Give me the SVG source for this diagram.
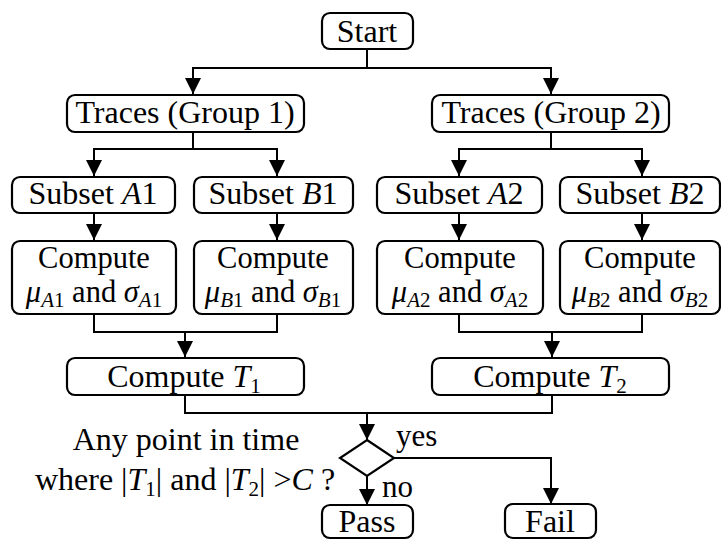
<svg xmlns="http://www.w3.org/2000/svg" width="721" height="540" viewBox="0 0 721 540">
<style>
.box{fill:#fff;stroke:#000;stroke-width:2.2}
.ln{fill:none;stroke:#000;stroke-width:2}
text{font-family:"Liberation Serif","Times New Roman",serif;font-size:32px;fill:#000;text-anchor:middle}
.cmp{font-size:30.5px}
.it{font-style:italic}
.sub{font-size:21px}
.lbl{text-anchor:start;font-size:31px}
</style>
<defs>
<marker id="ah" markerUnits="userSpaceOnUse" markerWidth="16" markerHeight="16" refX="16" refY="8" orient="auto" viewBox="0 0 16 16">
<path d="M0,0 L16,8 L0,16 z" fill="#000"/>
</marker>
</defs>
<rect width="721" height="540" fill="#fff"/>
<g id="connectors">
<path class="ln" d="M367,49 V68 H193 V94" marker-end="url(#ah)"/>
<path class="ln" d="M367,68 H551 V94" marker-end="url(#ah)"/>
<path class="ln" d="M193,132 V149 H94 V176" marker-end="url(#ah)"/>
<path class="ln" d="M193,149 H277 V176" marker-end="url(#ah)"/>
<path class="ln" d="M551,132 V149 H459 V176" marker-end="url(#ah)"/>
<path class="ln" d="M551,149 H642 V176" marker-end="url(#ah)"/>
<path class="ln" d="M94,213 V240" marker-end="url(#ah)"/>
<path class="ln" d="M277,213 V240" marker-end="url(#ah)"/>
<path class="ln" d="M459,213 V240" marker-end="url(#ah)"/>
<path class="ln" d="M642,213 V240" marker-end="url(#ah)"/>
<path class="ln" d="M94,314 V332 H277 V314"/>
<path class="ln" d="M185,332 V357" marker-end="url(#ah)"/>
<path class="ln" d="M459,314 V332 H642 V314"/>
<path class="ln" d="M552,332 V357" marker-end="url(#ah)"/>
<path class="ln" d="M185,395 V413 H552 V395"/>
<path class="ln" d="M367,413 V440" marker-end="url(#ah)"/>
<path class="ln" d="M394,458 H551 V504" marker-end="url(#ah)"/>
<path class="ln" d="M367,476 V505" marker-end="url(#ah)"/>
</g>
<g id="start"><rect class="box" x="322" y="13" width="91" height="36" rx="8"/><text x="367" y="42">Start</text></g>
<g id="traces1"><rect class="box" x="67" y="95" width="237" height="37" rx="8"/><text x="185" y="123">Traces (Group 1)</text></g>
<g id="traces2"><rect class="box" x="432" y="95" width="237" height="37" rx="8"/><text x="551" y="123">Traces (Group 2)</text></g>
<g id="subsetA1"><rect class="box" x="12" y="177" width="163" height="36" rx="8"/><text x="93" y="204">Subset <tspan class="it">A</tspan>1</text></g>
<g id="subsetB1"><rect class="box" x="194" y="177" width="159" height="36" rx="8"/><text x="273" y="204">Subset <tspan class="it">B</tspan>1</text></g>
<g id="subsetA2"><rect class="box" x="377" y="177" width="165" height="36" rx="8"/><text x="459" y="204">Subset <tspan class="it">A</tspan>2</text></g>
<g id="subsetB2"><rect class="box" x="560" y="177" width="160" height="36" rx="8"/><text x="640" y="204">Subset <tspan class="it">B</tspan>2</text></g>
<g id="computeA1"><rect class="box" x="12" y="241" width="164" height="73" rx="8"/><text class="cmp" x="94" y="268">Compute</text><text class="cmp" x="94" y="302"><tspan class="it">μ</tspan><tspan class="sub" dy="5"><tspan class="it">A</tspan>1</tspan><tspan dy="-5"> and </tspan><tspan class="it">σ</tspan><tspan class="sub" dy="5"><tspan class="it">A</tspan>1</tspan></text></g>
<g id="computeB1"><rect class="box" x="194" y="241" width="159" height="73" rx="8"/><text class="cmp" x="273" y="268">Compute</text><text class="cmp" x="273" y="302"><tspan class="it">μ</tspan><tspan class="sub" dy="5"><tspan class="it">B</tspan>1</tspan><tspan dy="-5"> and </tspan><tspan class="it">σ</tspan><tspan class="sub" dy="5"><tspan class="it">B</tspan>1</tspan></text></g>
<g id="computeA2"><rect class="box" x="377" y="241" width="166" height="73" rx="8"/><text class="cmp" x="460" y="268">Compute</text><text class="cmp" x="460" y="302"><tspan class="it">μ</tspan><tspan class="sub" dy="5"><tspan class="it">A</tspan>2</tspan><tspan dy="-5"> and </tspan><tspan class="it">σ</tspan><tspan class="sub" dy="5"><tspan class="it">A</tspan>2</tspan></text></g>
<g id="computeB2"><rect class="box" x="560" y="241" width="160" height="73" rx="8"/><text class="cmp" x="640" y="268">Compute</text><text class="cmp" x="640" y="302"><tspan class="it">μ</tspan><tspan class="sub" dy="5"><tspan class="it">B</tspan>2</tspan><tspan dy="-5"> and </tspan><tspan class="it">σ</tspan><tspan class="sub" dy="5"><tspan class="it">B</tspan>2</tspan></text></g>
<g id="computeT1"><rect class="box" x="67" y="358" width="237" height="37" rx="8"/><text x="184" y="387">Compute <tspan class="it">T</tspan><tspan class="sub" dy="6">1</tspan></text></g>
<g id="computeT2"><rect class="box" x="432" y="358" width="237" height="37" rx="8"/><text x="550" y="387">Compute <tspan class="it">T</tspan><tspan class="sub" dy="6">2</tspan></text></g>
<g id="decision"><path class="box" d="M367,440 L394,458 L367,476 L340,458 Z"/>
<text x="186" y="450">Any point in time</text>
<text x="185" y="490">where |<tspan class="it">T</tspan><tspan class="sub" dy="6">1</tspan><tspan dy="-6">| and |</tspan><tspan class="it">T</tspan><tspan class="sub" dy="6">2</tspan><tspan dy="-6">| &gt;</tspan><tspan class="it">C</tspan> ?</text>
<text class="lbl" x="396" y="446">yes</text>
<text class="lbl" x="382" y="497">no</text>
</g>
<g id="pass"><rect class="box" x="322" y="505" width="91" height="33" rx="8"/><text x="367" y="532">Pass</text></g>
<g id="fail"><rect class="box" x="505" y="504" width="91" height="34" rx="8"/><text x="550" y="532">Fail</text></g>
</svg>
